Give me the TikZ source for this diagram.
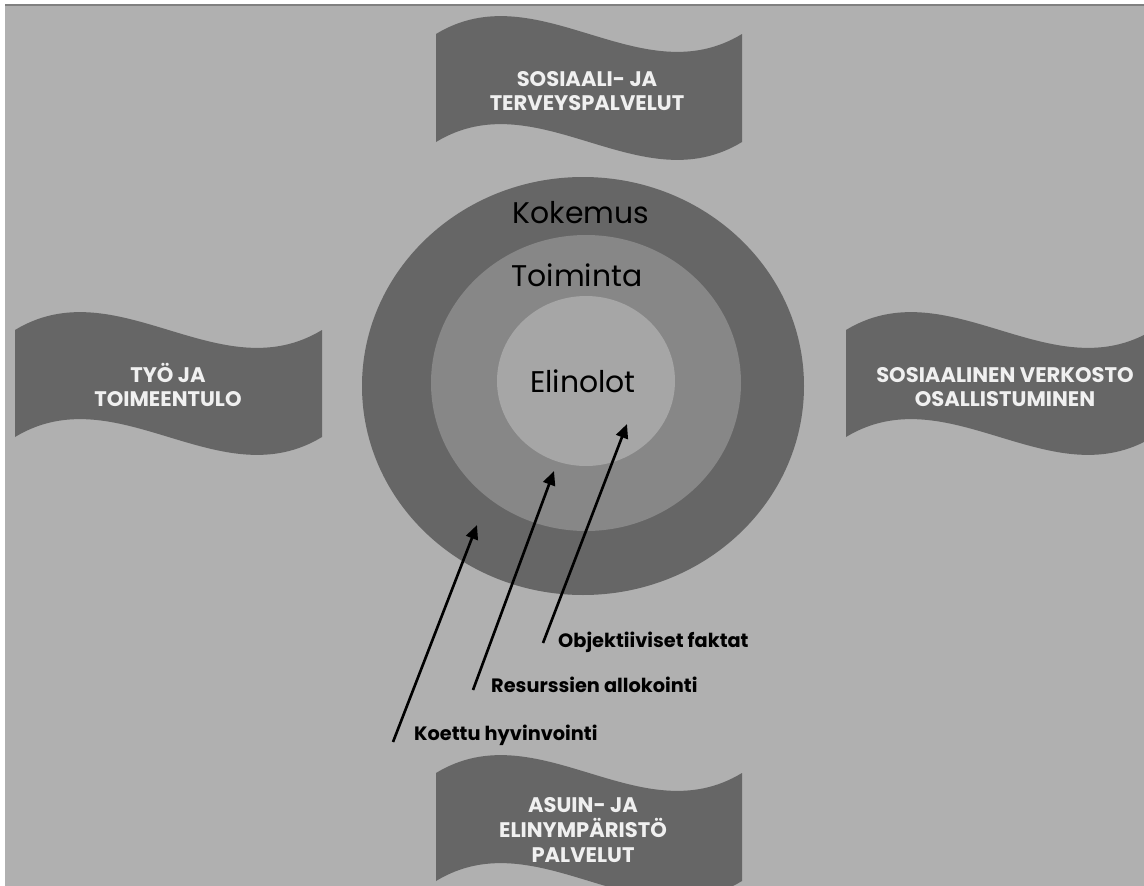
\documentclass[tikz,border=0pt]{standalone}
\usepackage{fontspec}
\setmainfont{Poppins}
\usepackage{tikz}
\usetikzlibrary{arrows.meta}

\definecolor{panelgray}{HTML}{B0B0B0}
\definecolor{ringouter}{HTML}{666666}
\definecolor{ringmiddle}{HTML}{878787}
\definecolor{ringinner}{HTML}{A6A6A6}
\definecolor{bannertxt}{HTML}{F0F0F0}

\tikzset{
  ringlabel/.style={anchor=base, text=black, font=\fontsize{17}{19}\selectfont},
  bannerlabel/.style={align=center, text=bannertxt, font=\bfseries\fontsize{12}{14}\selectfont},
  factlabel/.style={anchor=base west, text=black, font=\bfseries\fontsize{11}{13}\selectfont},
  factarrow/.style={line width=1.5pt, -{Triangle[length=8pt, width=7pt]}}
}

% wave shaped banner: left x, top y, width, height
\newcommand{\wavebanner}[4]{%
  \fill[ringouter] (#1,#2) .. controls (#1+#3/3,#2-62) and (#1+2*#3/3,#2+62) .. (#1+#3,#2)
    -- (#1+#3,#2+#4) .. controls (#1+2*#3/3,#2+#4+62) and (#1+#3/3,#2+#4-62) .. (#1,#2+#4) -- cycle;}

\begin{document}
\begin{tikzpicture}[x=0.02cm, y=-0.02cm]
  \useasboundingbox (0,0) rectangle (1144,886);
  \fill[panelgray] (5,5) rectangle (1144,886);
  \draw[gray, line width=1.2pt] (5,5) -- (1144,5);
  \begin{scope}
    \clip (5,6) rectangle (1144,886);

    % Banners
    \wavebanner{436}{34}{306}{108}
    \wavebanner{15}{330}{307}{107}
    \wavebanner{846}{330}{307}{107}
    \wavebanner{436}{773}{306}{108}

    % Rings
    \fill[ringouter] (583,386) ellipse [x radius=221, y radius=209];
    \fill[ringmiddle] (586,383) ellipse [x radius=155, y radius=148];
    \fill[ringinner] (586,381) ellipse [x radius=89, y radius=85];
  \end{scope}

  % Nodes
  \node[bannerlabel] (sote) at (587,91) {SOSIAALI- JA\\TERVEYSPALVELUT};
  \node[bannerlabel] (tyo) at (168,385) {TYÖ JA\\TOIMEENTULO};
  \node[bannerlabel] (verkosto) at (1005,387) {SOSIAALINEN VERKOSTO\\OSALLISTUMINEN};
  \node[bannerlabel] (asuin) at (583,830) {ASUIN- JA\\ELINYMPÄRISTÖ\\PALVELUT};

  \node[ringlabel] (kokemus) at (581,223) {Kokemus};
  \node[ringlabel] (toiminta) at (577,286) {Toiminta};
  \node[ringlabel] (elinolot) at (583,392) {Elinolot};

  \node[factlabel] (objektiiviset) at (552,647) {Objektiiviset faktat};
  \node[factlabel] (resurssit) at (485,692) {Resurssien allokointi};
  \node[factlabel] (koettu) at (408,740) {Koettu hyvinvointi};

  \coordinate (koettutail) at (393,742);
  \coordinate (koettutip) at (477,525);
  \coordinate (resurssittail) at (473,690);
  \coordinate (resurssittip) at (554,471);
  \coordinate (objektiivisettail) at (543,643);
  \coordinate (objektiivisettip) at (627,424);

  % Edges
  \draw[factarrow] (koettutail) -- (koettutip);
  \draw[factarrow] (resurssittail) -- (resurssittip);
  \draw[factarrow] (objektiivisettail) -- (objektiivisettip);
\end{tikzpicture}
\end{document}
